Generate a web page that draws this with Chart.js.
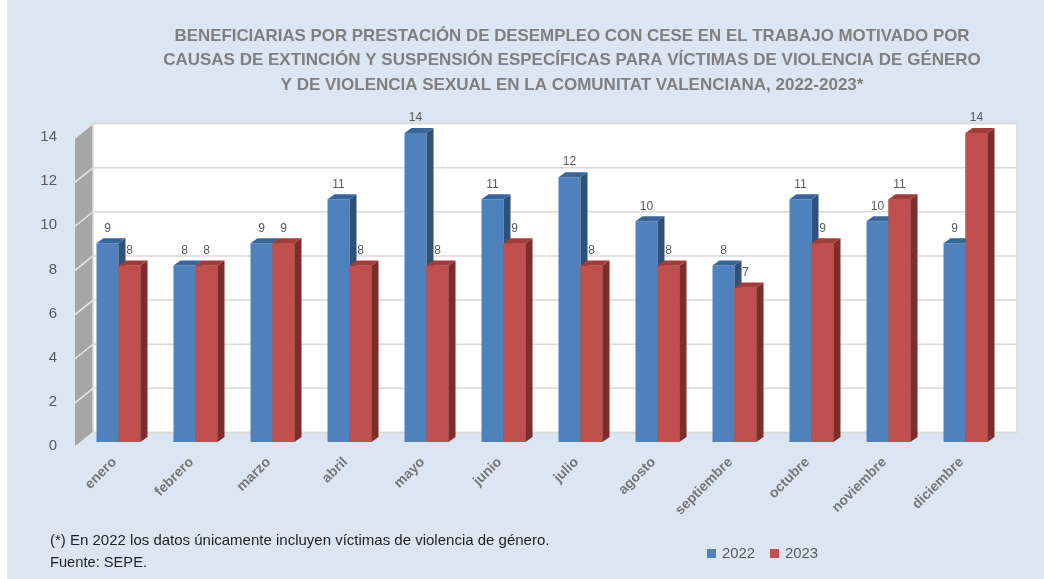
<!DOCTYPE html>
<html>
<head>
<meta charset="utf-8">
<script src="https://cdn.jsdelivr.net/npm/chart.js@4"></script>
<style>
  html, body { margin: 0; padding: 0; background: #ffffff; }
  #wrap { width: 1044px; height: 579px; }
</style>
</head>
<body>
<div id="wrap"><canvas id="chart" width="1044" height="579"></canvas></div>
<script>
var months = ['enero', 'febrero', 'marzo', 'abril', 'mayo', 'junio', 'julio', 'agosto', 'septiembre', 'octubre', 'noviembre', 'diciembre'];
var values2022 = [9, 8, 9, 11, 14, 11, 12, 10, 8, 11, 10, 9];
var values2023 = [8, 8, 9, 8, 8, 9, 8, 8, 7, 9, 11, 14];
var yTicks = [0, 2, 4, 6, 8, 10, 12, 14];
var titleLines = [
  'BENEFICIARIAS POR PRESTACIÓN DE DESEMPLEO CON CESE EN EL TRABAJO MOTIVADO POR',
  'CAUSAS DE EXTINCIÓN Y SUSPENSIÓN ESPECÍFICAS PARA VÍCTIMAS DE VIOLENCIA DE GÉNERO',
  'Y DE VIOLENCIA SEXUAL EN LA COMUNITAT VALENCIANA, 2022-2023*'
];
var notes = [
  '(*) En 2022 los datos únicamente incluyen víctimas de violencia de género.',
  'Fuente: SEPE.'
];

var FONT = '"Liberation Sans", Arial, sans-serif';
var shades = {
  '#4f81bd': { top: '#3b6496', side: '#2f5079' },
  '#c0504d': { top: '#9e3e3b', side: '#7b2e2c' }
};

function drawDepth(c, bar, sh) {
  var dx = 7, dy = -5;
  var l = bar.x - bar.width / 2, r = bar.x + bar.width / 2, t = bar.y, b = bar.base;
  c.fillStyle = sh.side;
  c.beginPath();
  c.moveTo(r, b); c.lineTo(r, t); c.lineTo(r + dx, t + dy); c.lineTo(r + dx, b + dy);
  c.closePath(); c.fill();
  c.fillStyle = sh.top;
  c.beginPath();
  c.moveTo(l, t); c.lineTo(l + dx, t + dy); c.lineTo(r + dx, t + dy); c.lineTo(r, t);
  c.closePath(); c.fill();
}

// background, walls and gridlines of the 3D box
var backdrop = {
  id: 'backdrop',
  beforeDraw: function (chart) {
    var c = chart.ctx, a = chart.chartArea, y = chart.scales.y;
    c.save();
    c.fillStyle = '#ffffff';
    c.fillRect(0, 0, chart.width, chart.height);
    c.fillStyle = '#dce6f2';
    c.fillRect(7, 0, chart.width - 7, chart.height);

    var y0 = y.getPixelForValue(0), yt = y.getPixelForValue(14);
    var fx = a.left - 5, fy = 5, bx = a.left + 13, by = -9.5;
    // side wall
    c.fillStyle = '#a6a6a6';
    c.beginPath();
    c.moveTo(fx, y0 + fy); c.lineTo(fx, yt + fy);
    c.lineTo(bx, yt + by); c.lineTo(bx, y0 + by);
    c.closePath(); c.fill();
    // back wall
    c.fillStyle = '#ffffff';
    c.fillRect(bx, yt + by, a.right + 13 - bx, y0 - yt);
    c.strokeStyle = '#d9d9d9';
    c.lineWidth = 1.5;
    c.strokeRect(bx, yt + by, a.right + 13 - bx, y0 - yt);
    yTicks.forEach(function (v) {
      var p = y.getPixelForValue(v);
      c.strokeStyle = '#d9d9d9';
      c.beginPath(); c.moveTo(bx, p + by); c.lineTo(a.right + 13, p + by); c.stroke();
      c.strokeStyle = '#e6e6e6';
      c.beginPath(); c.moveTo(fx, p + fy); c.lineTo(bx, p + by); c.stroke();
    });
    c.restore();
  },
  afterDatasetsDraw: function (chart) {
    var c = chart.ctx;
    var m0 = chart.getDatasetMeta(0), m1 = chart.getDatasetMeta(1);
    var s0 = shades[chart.data.datasets[0].backgroundColor];
    var s1 = shades[chart.data.datasets[1].backgroundColor];
    c.save();
    m0.data.forEach(function (bar, j) {
      drawDepth(c, bar, s0);
      m1.data[j].draw(c);
      drawDepth(c, m1.data[j], s1);
    });
    c.restore();
  },
  afterDraw: function (chart) {
    var c = chart.ctx;
    c.save();
    // value labels
    c.font = '12px ' + FONT;
    c.fillStyle = '#595959';
    c.textAlign = 'center';
    c.textBaseline = 'middle';
    chart.data.datasets.forEach(function (ds, i) {
      chart.getDatasetMeta(i).data.forEach(function (bar, j) {
        c.fillText(String(ds.data[j]), bar.x, bar.y - 15);
      });
    });
    // title
    c.font = 'bold 17px ' + FONT;
    c.fillStyle = '#7f7f7f';
    var widths = [795, 823, 609];
    titleLines.forEach(function (line, i) {
      c.fillText(line, 572, 36 + i * 24.5, widths[i]);
    });
    // notes
    c.textAlign = 'left';
    c.font = '15px ' + FONT;
    c.fillStyle = '#1f1f1f';
    c.fillText(notes[0], 50, 541, 551);
    c.fillText(notes[1], 50, 563, 97);
    // legend
    var lx = 707;
    chart.data.datasets.forEach(function (ds) {
      c.fillStyle = ds.backgroundColor;
      c.fillRect(lx, 549, 9, 9);
      c.fillStyle = '#595959';
      c.font = '15px ' + FONT;
      c.fillText(ds.label, lx + 15, 554, 33);
      lx += 63;
    });
    c.restore();
  }
};

new Chart(document.getElementById('chart').getContext('2d'), {
  type: 'bar',
  data: {
    labels: months,
    datasets: [
      { label: '2022', data: values2022, backgroundColor: '#4f81bd' },
      { label: '2023', data: values2023, backgroundColor: '#c0504d' }
    ]
  },
  options: {
    responsive: false,
    animation: false,
    layout: { padding: { left: 20, right: 40, top: 133, bottom: 37 } },
    datasets: { bar: { barPercentage: 1, categoryPercentage: 44 / 77 } },
    plugins: { legend: { display: false }, tooltip: { enabled: false } },
    scales: {
      x: {
        grid: { display: false, drawTicks: false },
        border: { display: false },
        ticks: {
          color: '#767676', font: { family: FONT, size: 14, weight: 'bold' },
          minRotation: 45, maxRotation: 45, padding: 12, labelOffset: -4
        },
        afterFit: function (s) { s.height = 100; }
      },
      y: {
        min: 0, max: 14,
        grid: { display: false, drawTicks: false },
        border: { display: false },
        ticks: {
          stepSize: 2, color: '#595959', font: { family: FONT, size: 15 },
          padding: 23, labelOffset: 4
        },
        afterFit: function (s) { s.width = 60; }
      }
    }
  },
  plugins: [backdrop]
});
</script>
</body>
</html>
